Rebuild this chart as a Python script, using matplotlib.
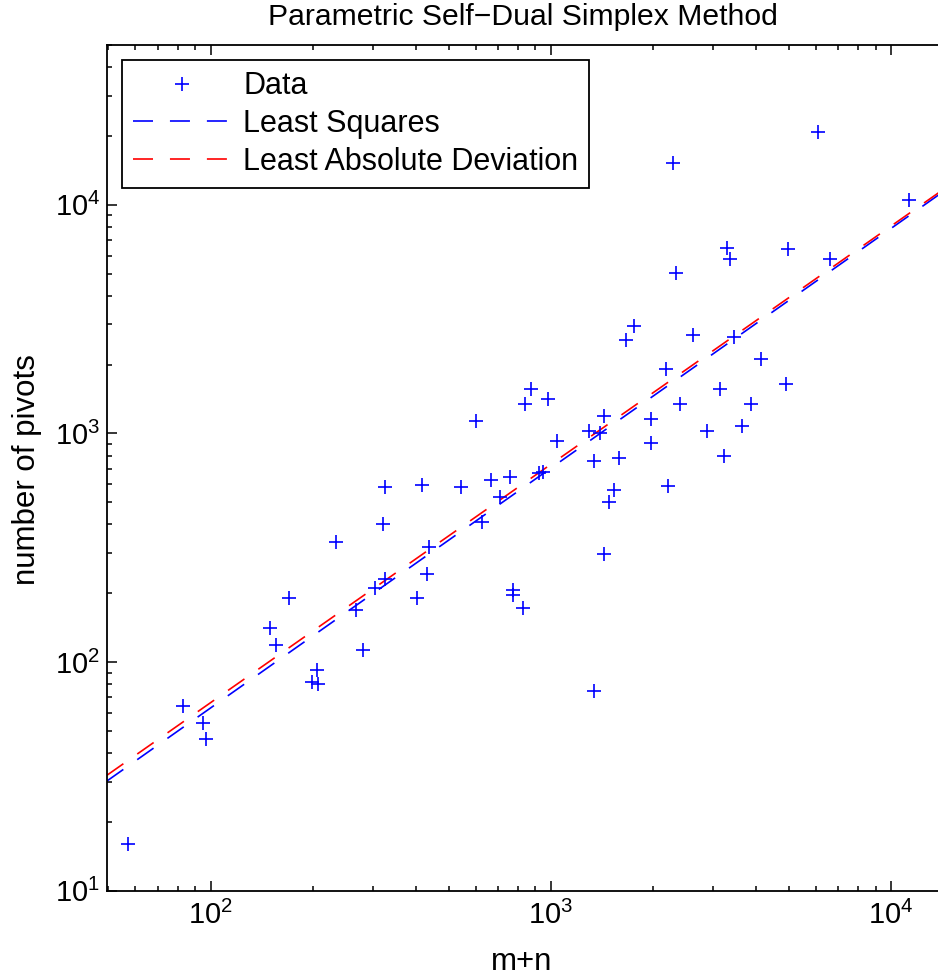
import matplotlib
matplotlib.use('Agg')
import matplotlib.pyplot as plt
from matplotlib.ticker import LogLocator, LogFormatterMathtext, NullFormatter

# ---- data ----
m_plus_n = [57, 83, 95, 97, 149, 155, 170, 205, 198, 207,
            280, 267, 233, 303, 325, 320, 325, 404, 418, 432,
            438, 544, 601, 625, 666, 707, 760, 774, 774, 825,
            923, 945, 840, 871, 977, 1043, 1295, 1392, 1339, 1433,
            1483, 1531, 1433, 1337, 1583, 1663, 1748, 1966, 1966, 2172,
            2201, 2286, 2324, 2397, 2607, 2877, 3130, 3228, 3295, 3356,
            3448, 3633, 3876, 4148, 4913, 4980, 6100, 6617, 11270]
pivots = [16, 64, 54, 46, 141, 119, 191, 92, 82, 80,
          113, 169, 336, 210, 230, 400, 581, 191, 594, 243,
          319, 581, 1135, 408, 625, 528, 642, 206, 196, 173,
          668, 679, 1343, 1557, 1413, 928, 1027, 1006, 759, 1190,
          499, 565, 297, 75, 778, 2559, 2954, 1155, 910, 1906,
          590, 15240, 5007, 1343, 2682, 1023, 1557, 798, 6442, 5768,
          2629, 1076, 1343, 2107, 1638, 6398, 20840, 5782, 10470]

# fitted lines (end points)
fit_x = [49.5, 14500]
ls_y = [30.2, 11650]
lad_y = [32.0, 11900]

title = "Parametric Self\u2212Dual Simplex Method"
xlabel = "m+n"
ylabel = "number of pivots"
legend_labels = ["Data", "Least Squares", "Least Absolute Deviation"]

# ---- style ----
plt.rcParams['font.family'] = ['Liberation Sans', 'DejaVu Sans']
plt.rcParams['mathtext.fontset'] = 'custom'
plt.rcParams['mathtext.rm'] = 'Liberation Sans'
plt.rcParams['lines.scale_dashes'] = False
FS = 22.5
TITLE_FS = 21.7
LEG_FS = 22
TFS = 21

W, H = 938, 977
fig = plt.figure(figsize=(W / 100, H / 100), dpi=100)
left_px, right_px, top_px, bot_px = 107, 950, 45, 890.7
ax = fig.add_axes([left_px / W, 1 - bot_px / H,
                   (right_px - left_px) / W, (bot_px - top_px) / H])
ax.set_xscale('log')
ax.set_yscale('log')

xmin = 49.5
decade_px = 340.15
xmax = xmin * 10 ** ((right_px - left_px) / decade_px)
ax.set_xlim(xmin, xmax)
ax.set_ylim(10, 5e4)

ax.plot(m_plus_n, pivots, linestyle='none', marker='+', color='blue',
        markersize=10, markeredgewidth=1.2, label=legend_labels[0], zorder=3)
ax.plot(fit_x, ls_y, color='blue', lw=1.2, dashes=(14.4, 12.2),
        label=legend_labels[1], zorder=2)
ax.plot(fit_x, lad_y, color='red', lw=1.2, dashes=(14.4, 12.2),
        label=legend_labels[2], zorder=2)

for s in ax.spines.values():
    s.set_linewidth(1.3)

ax.xaxis.set_major_locator(LogLocator(base=10))
ax.yaxis.set_major_locator(LogLocator(base=10))
ax.xaxis.set_minor_locator(LogLocator(base=10, subs=range(2, 10)))
ax.yaxis.set_minor_locator(LogLocator(base=10, subs=range(2, 10)))
ax.xaxis.set_major_formatter(LogFormatterMathtext())
ax.yaxis.set_major_formatter(LogFormatterMathtext())
ax.xaxis.set_minor_formatter(NullFormatter())
ax.yaxis.set_minor_formatter(NullFormatter())
ax.tick_params(which='both', direction='in', top=True, right=True,
               labelsize=TFS, width=1.1)
ax.tick_params(which='major', length=7)
ax.tick_params(axis='y', which='major', pad=5)
ax.tick_params(axis='x', which='major', pad=7)
ax.tick_params(which='minor', length=3.6)

fig.text(523 / W, 1 - 17 / H, title, ha='center', va='center',
         fontsize=TITLE_FS)

ax.set_xlabel(xlabel, fontsize=FS)
ax.xaxis.set_label_coords((522 - left_px) / (right_px - left_px),
                          -(962 - bot_px) / (bot_px - top_px))
ax.xaxis.label.set_va('center')

ax.set_ylabel(ylabel, fontsize=FS)
ax.yaxis.set_label_coords((27 - left_px) / (right_px - left_px),
                          (bot_px - 470) / (bot_px - top_px))
ax.yaxis.label.set_va('center')

leg = ax.legend(loc='upper left',
                bbox_to_anchor=(121.7 / W, 1 - 60 / H),
                bbox_transform=fig.transFigure,
                fontsize=LEG_FS, numpoints=1, handlelength=3.2,
                handletextpad=0.4, labelspacing=0.25, borderpad=0.37,
                borderaxespad=0, fancybox=False, framealpha=1,
                edgecolor='black')
leg.get_frame().set_linewidth(1.3)

fig.savefig('out.png', dpi=100)
